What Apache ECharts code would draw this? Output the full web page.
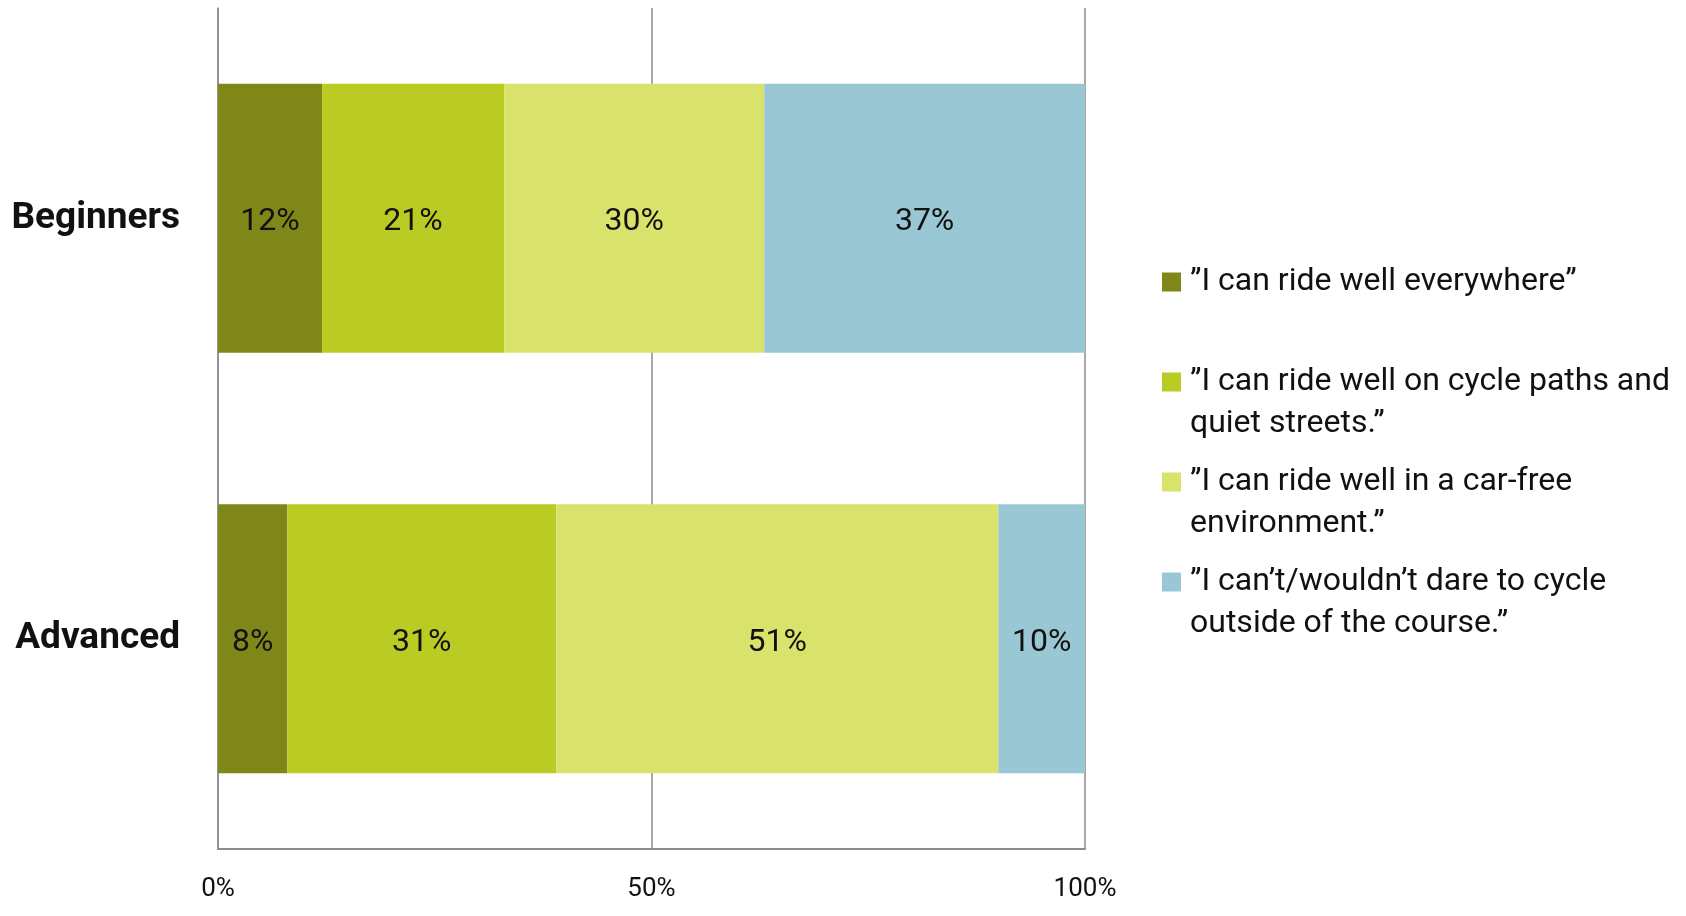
<!DOCTYPE html>
<html>
<head>
<meta charset="utf-8">
<script src="https://cdn.jsdelivr.net/npm/echarts@6/dist/echarts.min.js"></script>
<style>
html,body{margin:0;padding:0;background:#fff;}
#chart{width:1686px;height:916px;}
</style>
</head>
<body>
<div id="chart"></div>
<script>
const categories = ['Beginners', 'Advanced'];
const seriesNames = ['Everywhere', 'Cycle paths', 'Car-free', 'Would not dare'];
const everywhere = [12, 8];
const cyclePaths = [21, 31];
const carFree = [30, 51];
const wouldNotDare = [37, 10];
const xTickLabels = ['0%', '50%', '100%'];
const legendLines = [
  ['\u201DI can ride well everywhere\u201D', ''],
  ['\u201DI can ride well on cycle paths and', 'quiet streets.\u201D'],
  ['\u201DI can ride well in a car-free', 'environment.\u201D'],
  ['\u201DI can\u2019t/wouldn\u2019t dare to cycle', 'outside of the course.\u201D']
];
const colors = ['#7F8719', '#BACC23', '#D9E36B', '#99C8D4'];

const values = [everywhere, cyclePaths, carFree, wouldNotDare];
const FONT = 'Roboto';

const rich = {
  g: { width: 9 },
  s: { width: 28 },
  t: { fontSize: 32, lineHeight: 42, color: '#111', fontFamily: FONT }
};
colors.forEach((c, i) => { rich['m' + i] = { width: 19, height: 19, backgroundColor: c }; });

const chart = echarts.init(document.getElementById('chart'), null, { renderer: 'canvas' });
chart.setOption({
  animation: false,
  backgroundColor: '#fff',
  color: colors,
  textStyle: { fontFamily: FONT },
  grid: { left: 218, right: 601, top: 8, bottom: 67, containLabel: false },
  xAxis: {
    type: 'value', min: 0, max: 100, interval: 50,
    axisLine: { show: true, lineStyle: { color: '#8c8c8c', width: 2 } },
    axisTick: { show: false },
    splitLine: { show: true, lineStyle: { color: '#8c8c8c', width: 1.5 } },
    axisLabel: {
      margin: 27, color: '#111', fontSize: 26, fontFamily: FONT,
      formatter: v => xTickLabels[Math.round(v / 50)]
    }
  },
  yAxis: {
    type: 'category', data: categories, inverse: true,
    axisLine: { show: true, lineStyle: { color: '#8c8c8c', width: 1.5 } },
    axisTick: { show: false },
    axisLabel: {
      margin: 38, color: '#111', fontSize: 37, fontWeight: 'bold', fontFamily: FONT,
      padding: [12, 0, 0, 0]
    }
  },
  legend: {
    orient: 'vertical', left: 1152, top: 261, itemGap: 26,
    itemWidth: 0, itemHeight: 0, icon: 'rect', selectedMode: false,
    data: seriesNames,
    formatter: function (name) {
      const i = seriesNames.indexOf(name);
      const L = legendLines[i];
      return '{m' + i + '|}{g|}{t|' + L[0] + '}\n{s|}{t|' + (L[1] || ' ') + '}';
    },
    textStyle: { rich: rich, fontFamily: FONT, fontSize: 32 }
  },
  series: seriesNames.map((n, i) => ({
    name: n, type: 'bar', stack: 'total', barWidth: '64%',
    data: values[i],
    itemStyle: { color: colors[i] },
    label: {
      show: true, position: 'inside', formatter: '{c}%', offset: [0, 4],
      color: '#111', fontSize: 32, fontFamily: FONT
    }
  }))
});
</script>
</body>
</html>
